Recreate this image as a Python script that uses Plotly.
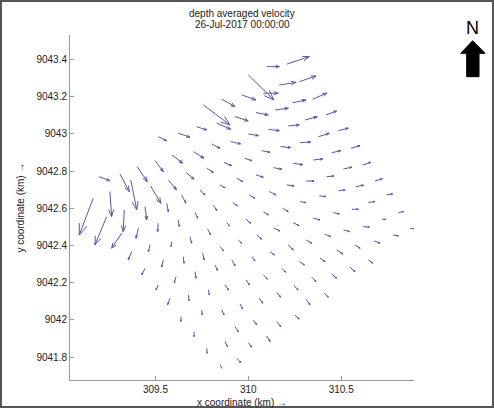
import plotly.figure_factory as ff
import plotly.graph_objects as go
import math

# Grid positions (km) and depth-averaged velocity components (arbitrary units)
x = [310.099, 310.207, 310.000, 310.081, 310.167, 310.275, 309.857, 309.964, 310.239, 310.347,
     310.041, 310.144, 309.928, 309.758, 309.830, 310.305, 310.418, 310.215, 310.000, 310.108,
     310.377, 310.485, 309.905, 310.174, 310.072, 310.278, 310.449, 310.553, 309.803, 309.982,
     309.869, 310.135, 310.242, 310.350, 310.512, 310.616, 310.041, 309.938, 310.207, 310.311,
     310.422, 310.580, 310.682, 309.848, 310.005, 310.113, 310.278, 310.382, 310.485, 310.646,
     310.745, 309.916, 310.081, 310.185, 310.350, 310.458, 310.557, 310.808, 310.718, 309.884,
     309.988, 310.138, 310.242, 310.413, 310.512, 310.619, 310.778, 310.871, 309.946, 310.045,
     310.117, 310.215, 310.311, 310.476, 310.575, 310.677, 309.848, 309.911, 310.018, 310.180,
     310.275, 310.386, 310.548, 310.646, 309.988, 310.081, 310.246, 310.341, 310.449, 309.875,
     309.955, 310.059, 310.153, 310.311, 310.408, 309.857, 310.027, 310.153, 310.251, 309.928,
     309.875, 310.000, 310.099, 309.938, 309.848,
     309.165, 309.255, 309.237, 309.332, 309.318, 309.367, 309.444, 309.408, 309.372, 309.515,
     309.471, 309.444, 309.474, 309.561, 309.623, 309.588, 309.542, 309.515, 309.569, 309.641,
     309.713, 309.686, 309.650, 309.611, 309.578, 309.740, 309.812, 309.781, 309.754, 309.713,
     309.677, 309.638, 309.821, 309.785, 309.749, 309.708, 309.776,
     309.196, 309.309, 309.402, 309.498, 309.589, 309.704, 309.665, 309.776, 309.515, 309.623,
     309.722]
y = [9043.362, 9043.375, 9043.317, 9043.219, 9043.263, 9043.281, 9043.187, 9043.210, 9043.168, 9043.187,
     9043.115, 9043.129, 9043.093, 9043.156, 9043.058, 9043.075, 9043.102, 9043.043, 9043.000, 9043.025,
     9042.985, 9043.018, 9042.959, 9042.932, 9042.910, 9042.953, 9042.899, 9042.923, 9042.946, 9042.869,
     9042.846, 9042.819, 9042.842, 9042.860, 9042.812, 9042.833, 9042.780, 9042.762, 9042.726, 9042.747,
     9042.770, 9042.717, 9042.747, 9042.726, 9042.672, 9042.690, 9042.636, 9042.667, 9042.694, 9042.631,
     9042.672, 9042.631, 9042.582, 9042.601, 9042.547, 9042.577, 9042.595, 9042.577, 9042.541, 9042.523,
     9042.541, 9042.493, 9042.523, 9042.461, 9042.484, 9042.502, 9042.457, 9042.493, 9042.430, 9042.457,
     9042.367, 9042.403, 9042.430, 9042.376, 9042.403, 9042.425, 9042.394, 9042.323, 9042.340, 9042.278,
     9042.313, 9042.332, 9042.283, 9042.323, 9042.215, 9042.242, 9042.183, 9042.230, 9042.247, 9042.188,
     9042.086, 9042.117, 9042.147, 9042.111, 9042.144, 9042.054, 9042.000, 9041.991, 9042.027, 9041.964,
     9041.883, 9041.878, 9041.914, 9041.794, 9041.758,
     9042.654, 9042.690, 9042.555, 9042.591, 9042.466, 9042.753, 9042.609, 9042.493, 9042.367, 9042.520,
     9042.403, 9042.278, 9042.720, 9042.627, 9042.538, 9042.421, 9042.323, 9042.188, 9042.753, 9042.672,
     9042.577, 9042.448, 9042.340, 9042.233, 9042.117, 9042.699, 9042.618, 9042.488, 9042.359, 9042.260,
     9042.134, 9042.018, 9042.296, 9042.161, 9042.054, 9041.937, 9041.848,
     9042.770, 9042.785, 9042.824, 9042.856, 9042.887, 9042.905, 9042.792, 9042.816, 9042.985, 9043.004,
     9043.039]
u = [0.136, 0.243, 0.276, 0.161, 0.180, 0.180, 0.143, 0.154, 0.143, 0.151,
     0.132, 0.143, 0.143, 0.287, 0.151, 0.132, 0.115, 0.118, 0.108, 0.118,
     0.118, 0.108, 0.108, 0.108, 0.089, 0.115, 0.097, 0.097, 0.089, 0.072,
     0.083, 0.090, 0.101, 0.101, 0.090, 0.086, 0.079, 0.065, 0.079, 0.086,
     0.079, 0.079, 0.079, 0.054, 0.061, 0.072, 0.065, 0.072, 0.072, 0.072,
     0.065, 0.050, 0.054, 0.060, 0.072, 0.065, 0.071, 0.054, 0.046, 0.028,
     0.051, 0.065, 0.061, 0.061, 0.065, 0.065, 0.060, 0.054, 0.037, 0.054,
     0.046, 0.054, 0.061, 0.065, 0.054, 0.065, 0.036, 0.036, 0.036, 0.043,
     0.054, 0.054, 0.054, 0.047, 0.036, 0.043, 0.046, 0.046, 0.054, 0.036,
     0.029, 0.037, 0.043, 0.043, 0.046, 0.025, 0.037, 0.043, 0.046, 0.036,
     0.025, 0.037, 0.036, 0.043, 0.018,
     -0.151, 0.018, -0.126, -0.011, -0.108, 0.065, 0.018, -0.025, -0.037, -0.006,
     -0.018, -0.036, 0.111, 0.017, 0.011, -0.008, -0.017, -0.025, 0.090, 0.046,
     0.029, 0.018, 0.008, -0.018, -0.025, 0.054, 0.037, 0.032, 0.017, 0.011,
     0.008, -0.003, 0.025, 0.011, 0.006, 0.000, 0.006,
     0.118, 0.100, 0.108, 0.089, 0.115, 0.115, 0.086, 0.071, 0.090, 0.126,
     0.108]
v = [0.000, 0.082, -0.269, 0.000, 0.029, 0.061, -0.080, -0.054, 0.029, 0.065,
     -0.025, 0.018, -0.046, -0.215, -0.065, 0.035, 0.043, 0.011, -0.018, -0.015,
     0.037, 0.026, -0.025, -0.011, -0.017, 0.008, 0.022, 0.028, -0.046, -0.026,
     -0.032, -0.017, -0.015, 0.011, 0.018, 0.029, -0.025, -0.037, -0.011, 0.000,
     0.008, 0.015, 0.025, -0.032, -0.035, -0.035, -0.011, -0.008, 0.011, 0.011,
     0.011, -0.035, -0.035, -0.037, -0.018, -0.014, 0.000, 0.011, 0.000, -0.035,
     -0.043, -0.029, -0.032, -0.026, -0.018, -0.006, -0.011, -0.008, -0.035, -0.046,
     -0.035, -0.054, -0.035, -0.043, -0.035, -0.025, -0.043, -0.065, -0.046, -0.043,
     -0.035, -0.037, -0.047, -0.035, -0.054, -0.046, -0.043, -0.047, -0.046, -0.054,
     -0.054, -0.054, -0.049, -0.061, -0.043, -0.054, -0.054, -0.054, -0.046, -0.054,
     -0.054, -0.049, -0.061, -0.047, -0.035,
     -0.395, -0.269, -0.304, -0.233, -0.161, -0.323, -0.143, -0.108, -0.089, -0.090,
     -0.072, -0.072, -0.186, -0.090, -0.072, -0.054, -0.078, -0.054, -0.108, -0.089,
     -0.060, -0.071, -0.071, -0.065, -0.072, -0.054, -0.061, -0.061, -0.072, -0.071,
     -0.061, -0.054, -0.061, -0.054, -0.054, -0.054, -0.054,
     -0.043, -0.190, -0.161, -0.118, -0.089, -0.071, -0.071, -0.047, -0.043, -0.043,
     -0.035]

xtick_vals = [309.5, 310, 310.5]
xtick_text = ["309.5", "310", "310.5"]
ytick_vals = [9041.8, 9042.0, 9042.2, 9042.4, 9042.6, 9042.8, 9043.0, 9043.2, 9043.4]
ytick_text = ["9041.8", "9042", "9042.2", "9042.4", "9042.6", "9042.8", "9043", "9043.2", "9043.4"]

title1 = "depth averaged velocity"
title2 = "26-Jul-2017 00:00:00"

FONT = "Liberation Sans, Arial, sans-serif"
ARROW = "rgb(88,88,165)"

fig = ff.create_quiver(x, y, u, v, scale=0.5, arrow_scale=0.3, angle=math.pi / 9,
                       line=dict(color=ARROW, width=1))
fig.update_traces(hoverinfo="skip", showlegend=False)

fig.update_layout(
    width=494, height=408,
    margin=dict(l=70, r=80, t=35, b=28, autoexpand=False),
    paper_bgcolor="white", plot_bgcolor="white",
    showlegend=False,
    font=dict(family=FONT, size=10, color="#222"),
    xaxis=dict(range=[309.04, 310.892], tickvals=xtick_vals, ticktext=xtick_text,
               showline=True, linecolor="#999", linewidth=1, mirror=False,
               ticks="inside", ticklen=4, tickcolor="#999",
               showgrid=False, zeroline=False, automargin=False,
               tickfont=dict(family=FONT, size=10, color="#222")),
    yaxis=dict(range=[9041.677, 9043.532], tickvals=ytick_vals, ticktext=ytick_text,
               showline=True, linecolor="#999", linewidth=1, mirror=False,
               ticks="inside", ticklen=4, tickcolor="#999",
               showgrid=False, zeroline=False, automargin=False,
               tickfont=dict(family=FONT, size=10, color="#222")),
)

ann = [
    dict(text=title1, x=0.5, y=1.0629, xref="paper", yref="paper", showarrow=False,
         xanchor="center", yanchor="middle", font=dict(family=FONT, size=10, color="#222")),
    dict(text=title2, x=0.5, y=1.029, xref="paper", yref="paper", showarrow=False,
         xanchor="center", yanchor="middle", font=dict(family=FONT, size=10, color="#222")),
    dict(text="x coordinate (km) \u2192", x=0.5, y=-0.0638, xref="paper", yref="paper",
         showarrow=False, xanchor="center", yanchor="middle",
         font=dict(family=FONT, size=10, color="#222")),
    dict(text="y coordinate (km) \u2192", x=-0.145, y=0.5, xref="paper", yref="paper",
         showarrow=False, xanchor="center", yanchor="middle", textangle=-90,
         font=dict(family=FONT, size=10, color="#222")),
    dict(text="N", x=1.1706, y=1.0203, xref="paper", yref="paper", showarrow=False,
         xanchor="center", yanchor="middle", font=dict(family=FONT, size=18, color="black")),
]
fig.update_layout(annotations=ann)

north_path = ("M 1.1706 0.9835 L 1.2064 0.9470 L 1.1890 0.9470 L 1.1890 0.8791 "
              "L 1.1532 0.8791 L 1.1532 0.9470 L 1.1358 0.9470 Z")
fig.add_shape(type="path", path=north_path, xref="paper", yref="paper",
              fillcolor="black", line=dict(color="black", width=1))
fig.add_shape(type="rect", xref="paper", yref="paper",
              x0=-0.2006, x1=1.2297, y0=-0.0783, y1=1.0986,
              line=dict(color="#555", width=2), fillcolor="rgba(0,0,0,0)")

fig.write_html("out.html")
